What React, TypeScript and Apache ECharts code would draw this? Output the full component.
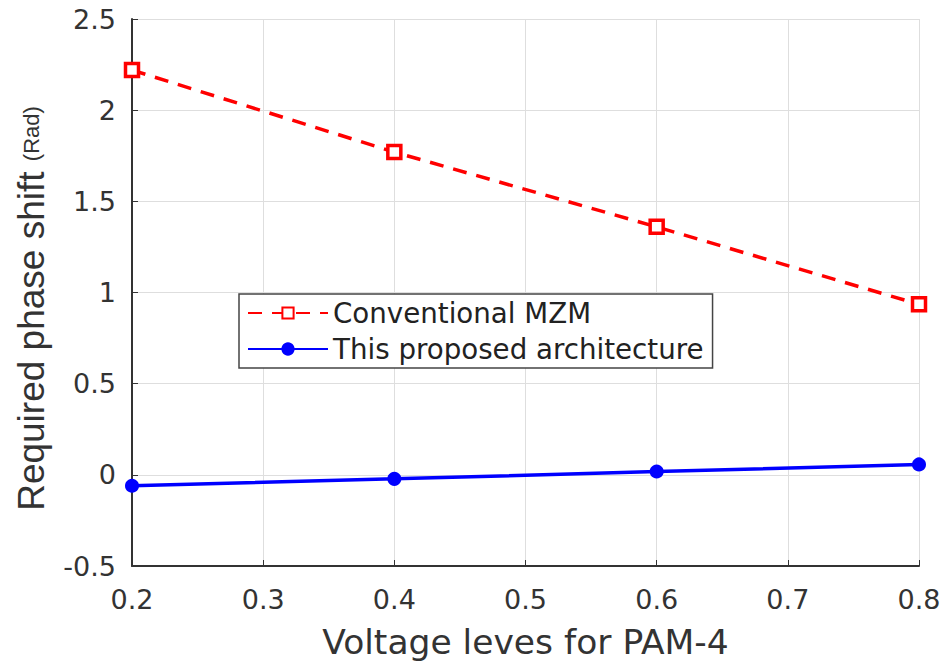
import React, { useEffect, useRef } from "react";
import * as echarts from "echarts";

const xValues = [0.2, 0.4, 0.6, 0.8];
const conventional = [2.22, 1.77, 1.36, 0.935];
const proposed = [-0.06, -0.022, 0.018, 0.057];
const seriesNames = ["Conventional MZM", "This proposed architecture"];

export default function App() {
  const ref = useRef<HTMLDivElement>(null);
  useEffect(() => {
    const chart = echarts.init(ref.current!, null, { renderer: "svg" });
    const font = "DejaVu Sans, Liberation Sans, sans-serif";
    const yFont = "Liberation Sans, Arial, sans-serif";
    chart.setOption({
      animation: false,
      backgroundColor: "#ffffff",
      grid: { left: 132, right: 29, top: 19, bottom: 100 },
      xAxis: {
        type: "value",
        min: 0.2,
        max: 0.8,
        interval: 0.1,
        name: "Voltage leves for PAM-4",
        nameLocation: "middle",
        nameGap: 58,
        nameTextStyle: { fontSize: 34.5, color: "#333", fontFamily: font },
        axisLine: { show: true, onZero: false, lineStyle: { color: "#333", width: 2 } },
        axisTick: { show: true, inside: true, length: 6, lineStyle: { color: "#333" } },
        axisLabel: { fontSize: 27, color: "#333", fontFamily: font, margin: 20, formatter: (v: number) => String(Math.round(v * 10) / 10) },
        splitLine: { show: true, lineStyle: { color: "#dedede", width: 1 } },
      },
      yAxis: {
        type: "value",
        min: -0.5,
        max: 2.5,
        interval: 0.5,
        name: "{a|Required phase shift} {b|(Rad)}",
        nameLocation: "middle",
        nameGap: 82,
        nameTextStyle: {
          fontSize: 37,
          color: "#333",
          fontFamily: yFont,
          padding: [0, 32, 0, 0],
          rich: {
            a: { fontSize: 37, color: "#333", fontFamily: yFont },
            b: { fontSize: 22, color: "#333", fontFamily: yFont },
          },
        },
        axisLine: { show: true, onZero: false, lineStyle: { color: "#333", width: 2 } },
        axisTick: { show: true, inside: true, length: 6, lineStyle: { color: "#333" } },
        axisLabel: { fontSize: 27, color: "#333", fontFamily: font, margin: 16 },
        splitLine: { show: true, lineStyle: { color: "#dedede", width: 1 } },
      },
      legend: {
        left: 239,
        top: 294,
        orient: "vertical",
        backgroundColor: "#fff",
        borderColor: "#444",
        borderWidth: 1.5,
        padding: [5, 9, 5, 8],
        itemWidth: 80,
        itemHeight: 14,
        itemGap: 8,
        textStyle: { fontSize: 27.7, color: "#222", fontFamily: font },
        data: seriesNames,
      },
      series: [
        {
          name: seriesNames[0],
          type: "line",
          data: xValues.map((x, i) => [x, conventional[i]]),
          symbol: "rect",
          symbolSize: 13,
          itemStyle: { color: "#fff", borderColor: "#ff0000", borderWidth: 3.5 },
          lineStyle: { color: "#ff0000", width: 3.5, type: [14, 10] },
          z: 3,
        },
        {
          name: seriesNames[1],
          type: "line",
          data: xValues.map((x, i) => [x, proposed[i]]),
          symbol: "circle",
          symbolSize: 11,
          itemStyle: { color: "#0000ff", borderColor: "#0000ff", borderWidth: 3 },
          lineStyle: { color: "#0000ff", width: 3.5 },
          z: 3,
        },
      ],
    });
    return () => chart.dispose();
  }, []);
  return <div ref={ref} style={{ width: 948, height: 666, position: "absolute", left: 0, top: 0 }} />;
}
